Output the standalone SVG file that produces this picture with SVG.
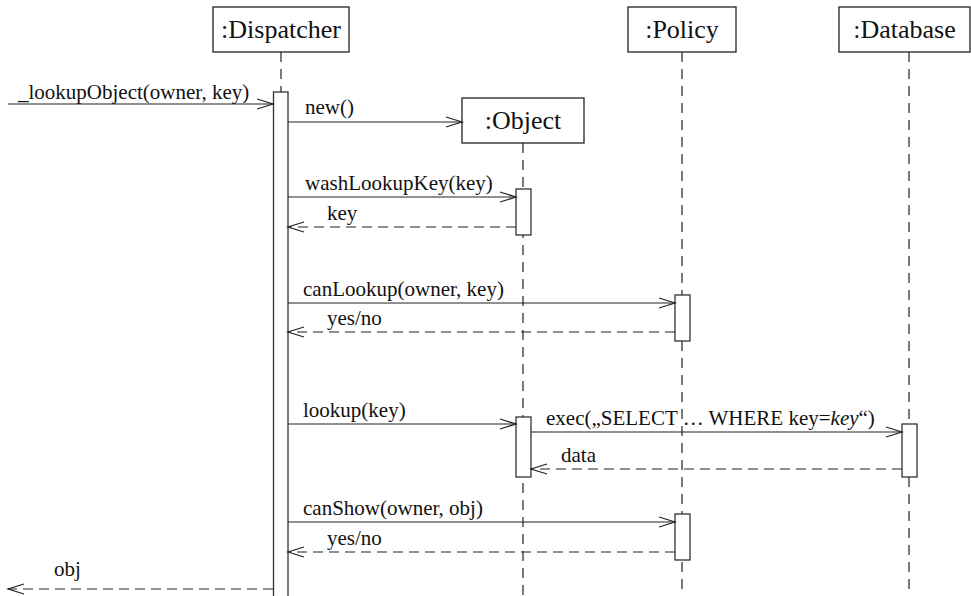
<svg xmlns="http://www.w3.org/2000/svg" width="971" height="596" viewBox="0 0 971 596">
  <style>
    .box { fill: #fff; stroke: #222; stroke-width: 1.3; }
    .bar { fill: #fff; stroke: #333; stroke-width: 1.3; }
    .life { stroke: #222; stroke-width: 1.2; stroke-dasharray: 10 7; fill: none; }
    .title { font-family: "Liberation Serif", "Times New Roman", serif; font-size: 26px; fill: #111; text-anchor: middle; }
    .lbl { font-family: "Liberation Serif", "Times New Roman", serif; font-size: 21px; fill: #111; }
    .call { stroke: #222; stroke-width: 1.2; fill: none; marker-end: url(#open); }
    .ret { stroke: #222; stroke-width: 1.2; fill: none; stroke-dasharray: 10 6; marker-end: url(#open); }
  </style>
  <defs>
    <marker id="open" markerUnits="userSpaceOnUse" markerWidth="18" markerHeight="12" refX="17" refY="6" orient="auto" overflow="visible">
      <path d="M1,1 L17,6 L1,11" fill="none" stroke="#222" stroke-width="1.2" stroke-dasharray="none"/>
    </marker>
  </defs>
  <rect width="971" height="596" fill="#fff"/>

  <!-- lifelines and activations -->
  <g id="dispatcher">
    <line class="life" x1="281" y1="52" x2="281" y2="92"/>
    <rect class="box" x="213" y="7" width="136" height="45"/>
    <text class="title" x="281" y="38">:Dispatcher</text>
    <rect class="bar" x="273.5" y="92" width="14.5" height="520"/>
  </g>

  <g id="object">
    <line class="life" x1="523" y1="143" x2="523" y2="596"/>
    <rect class="box" x="462" y="98" width="122" height="45"/>
    <text class="title" x="523" y="129">:Object</text>
    <rect class="bar" x="516" y="189" width="15" height="46"/>
    <rect class="bar" x="516" y="417" width="15" height="60"/>
  </g>

  <g id="policy">
    <line class="life" x1="682" y1="52" x2="682" y2="596"/>
    <rect class="box" x="628" y="7" width="108" height="45"/>
    <text class="title" x="682" y="38">:Policy</text>
    <rect class="bar" x="675" y="295" width="15" height="46"/>
    <rect class="bar" x="675" y="514" width="15" height="46"/>
  </g>

  <g id="database">
    <line class="life" x1="909" y1="52" x2="909" y2="596"/>
    <rect class="box" x="839" y="7" width="131" height="45"/>
    <text class="title" x="904.5" y="38">:Database</text>
    <rect class="bar" x="902" y="424" width="15" height="53"/>
  </g>

  <!-- messages -->
  <g id="connectors">
    <line class="call" x1="8" y1="104" x2="273" y2="104"/>
    <line class="call" x1="288" y1="122" x2="462" y2="122"/>
    <line class="call" x1="288" y1="197" x2="516" y2="197"/>
    <line class="ret" x1="516" y1="227" x2="288" y2="227"/>
    <line class="call" x1="288" y1="303" x2="675" y2="303"/>
    <line class="ret" x1="675" y1="332" x2="288" y2="332"/>
    <line class="call" x1="288" y1="424" x2="516" y2="424"/>
    <line class="call" x1="531" y1="432" x2="902" y2="432"/>
    <line class="ret" x1="902" y1="469" x2="531" y2="469"/>
    <line class="call" x1="288" y1="522" x2="675" y2="522"/>
    <line class="ret" x1="675" y1="552" x2="288" y2="552"/>
    <line class="ret" x1="273" y1="589" x2="8" y2="589"/>
  </g>

  <g id="labels">
    <text class="lbl" x="18" y="99">_lookupObject(owner, key)</text>
    <text class="lbl" x="305" y="114">new()</text>
    <text class="lbl" x="305" y="190">washLookupKey(key)</text>
    <text class="lbl" x="327" y="220">key</text>
    <text class="lbl" x="303" y="296">canLookup(owner, key)</text>
    <text class="lbl" x="327" y="325">yes/no</text>
    <text class="lbl" x="303" y="417">lookup(key)</text>
    <text class="lbl" x="546" y="425">exec(„SELECT … WHERE key=<tspan font-style="italic">key</tspan>“)</text>
    <text class="lbl" x="561" y="462">data</text>
    <text class="lbl" x="303" y="515">canShow(owner, obj)</text>
    <text class="lbl" x="327" y="545">yes/no</text>
    <text class="lbl" x="54" y="576">obj</text>
  </g>
</svg>
